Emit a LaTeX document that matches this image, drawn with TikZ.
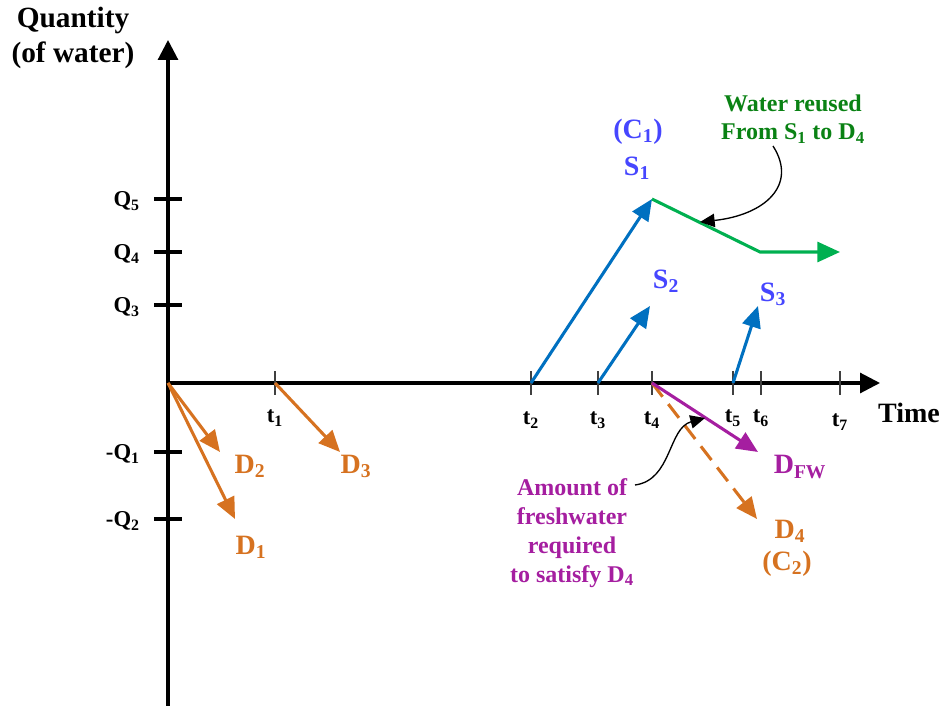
\documentclass[tikz,border=0pt]{standalone}
\usepackage{fontspec}
\setmainfont{Liberation Serif}
\usetikzlibrary{arrows.meta}
\definecolor{sblue}{RGB}{0,112,192}
\definecolor{slabel}{RGB}{70,70,255}
\definecolor{reusegreen}{RGB}{0,176,80}
\definecolor{notegreen}{RGB}{10,130,20}
\definecolor{dorange}{RGB}{214,114,32}
\definecolor{fwpurple}{RGB}{165,30,160}
\definecolor{tickgray}{RGB}{64,64,64}
\tikzset{
	axis/.style={line width=2.3pt,-{Triangle[length=15pt,width=15pt]}},
	qmark/.style={line width=2.3pt},
	tmark/.style={line width=2pt,tickgray},
	qlab/.style={font=\fontsize{17}{20}\selectfont\bfseries,anchor=east,inner sep=0pt},
	tlab/.style={font=\fontsize{17}{20}\selectfont\bfseries,inner sep=0pt},
	flow/.style={line width=2.3pt,-{Triangle[length=16pt,width=14pt]}},
	note/.style={line width=1pt,-{Triangle[length=11pt,width=10pt]}},
	biglab/.style={font=\fontsize{21}{25}\selectfont\bfseries,inner sep=0pt},
	textlab/.style={font=\fontsize{18}{21.6}\selectfont\bfseries,align=center,inner sep=0pt}
}
\begin{document}
\begin{tikzpicture}[x=0.75pt,y=-0.75pt]
		\useasboundingbox (0,0) rectangle (942,706);
		% axes
		\coordinate (O) at (168,383);
		\draw[axis] (168,706) coordinate(ybot) -- (168,40) coordinate(ytop);
		\draw[axis] (O) -- (880,383) coordinate(xend);
		\node[font=\fontsize{22}{26}\selectfont\bfseries,align=center] (qty) at (73,38) {Quantity\\(of water)};
		\node[font=\fontsize{21}{25}\selectfont\bfseries] (time) at (909,413) {Time};
		
		\foreach \n/\y in {5/199,4/252,3/305} {
			\draw[qmark] (154,\y) -- (182,\y);
			\node[qlab] (lq\n) at (140,\y+2) {Q\textsubscript{\n}};
		}
		\foreach \n/\y in {1/452,2/519} {
			\draw[qmark] (154,\y) -- (182,\y);
			\node[qlab] (lmq\n) at (140,\y+2) {-Q\textsubscript{\n}};
		}
		\foreach \n/\x/\l in {1/275/418,2/531/420,3/598/420,4/652/420,5/733/418,6/761/418,7/840/422} {
			\draw[tmark] (\x,371) -- (\x,395);
			\coordinate (t\n) at (\x,383);
			\node[tlab] (lt\n) at (\x,\l) {t\textsubscript{\n}};
		}
		
		% sources
		\coordinate (s1) at (652,199);
		\coordinate (s2) at (650,306);
		\coordinate (s3) at (758,306);
		\draw[flow,sblue] (t2) -- (s1);
		\draw[flow,sblue] (t3) -- (s2);
		\draw[flow,sblue] (t5) -- (s3);
		\node[biglab,slabel] (lc1) at (638,132) {(C\textsubscript{1})};
		\node[biglab,slabel] (ls1) at (637,168) {S\textsubscript{1}};
		\node[biglab,slabel] (ls2) at (666,281) {S\textsubscript{2}};
		\node[biglab,slabel] (ls3) at (773,294) {S\textsubscript{3}};
		
		% reuse
		\coordinate (g1) at (760,252);
		\coordinate (g2) at (840,252);
		\draw[line width=2.3pt,reusegreen,-{Triangle[length=17pt,width=15pt]}] (s1) -- (g1) -- (g2);
		\node[textlab,notegreen] (reuse) at (793,119) {Water reused\\From S\textsubscript{1} to D\textsubscript{4}};
		\coordinate (rs) at (773,146);
		\coordinate (rt) at (700,222);
		\draw[note] (rs) .. controls (798,185) and (765,215) .. (rt);
		
		% demands
		\coordinate (d1) at (235,519);
		\coordinate (d2) at (220,452);
		\coordinate (d3) at (340,452);
		\coordinate (d4) at (757,519);
		\coordinate (dfw) at (758,452);
		\draw[flow,dorange] (O) -- (d2);
		\draw[flow,dorange] (O) -- (d1);
		\draw[flow,dorange] (t1) -- (d3);
		\draw[flow,dorange,dash pattern=on 13pt off 7pt] (t4) -- (d4);
		\draw[flow,fwpurple] (t4) -- (dfw);
		\node[biglab,dorange] (ld2) at (250,466) {D\textsubscript{2}};
		\node[biglab,dorange] (ld1) at (251,547) {D\textsubscript{1}};
		\node[biglab,dorange] (ld3) at (356,466) {D\textsubscript{3}};
		\node[biglab,dorange] (ld4) at (790,531) {D\textsubscript{4}};
		\node[biglab,dorange] (lc2) at (787,564) {(C\textsubscript{2})};
		\node[biglab,fwpurple] (ldfw) at (800,467) {D\textsubscript{FW}};
		
		\node[textlab,fwpurple] (fresh) at (572,533) {Amount of\\freshwater\\required\\to satisfy D\textsubscript{4}};
		\coordinate (fs) at (635,485);
		\coordinate (ft) at (705,418);
		\draw[note] (fs) .. controls (672,480) and (668,428) .. (ft);
\end{tikzpicture}
\end{document}
